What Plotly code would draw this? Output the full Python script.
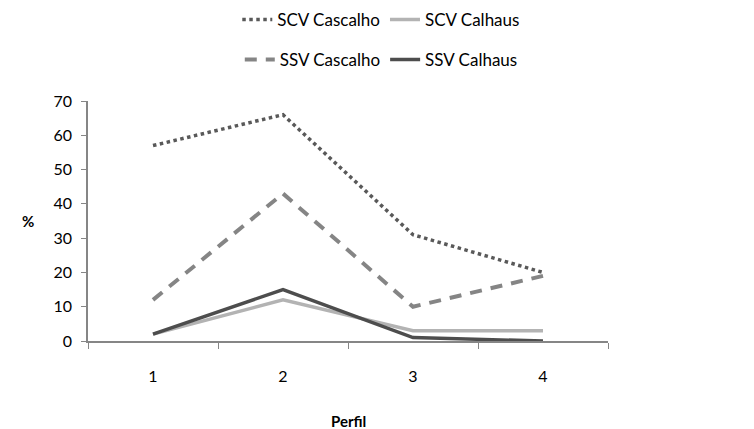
import plotly.graph_objects as go

categories = ["1", "2", "3", "4"]
scv_cascalho = [57, 66, 31, 20]
ssv_cascalho = [12, 43, 10, 19]
scv_calhaus = [2, 12, 3, 3]
ssv_calhaus = [2, 15, 1, 0]

FONT = "Lato, 'Open Sans', sans-serif"
fig = go.Figure()
fig.add_trace(go.Scatter(x=categories, y=scv_cascalho, name="SCV Cascalho", mode="lines",
                         line=dict(color="#595959", width=3.5, dash="dot"), legend="legend"))
fig.add_trace(go.Scatter(x=categories, y=ssv_cascalho, name="SSV Cascalho", mode="lines",
                         line=dict(color="#858585", width=4, dash="12px,9px"), legend="legend2"))
fig.add_trace(go.Scatter(x=categories, y=scv_calhaus, name="SCV Calhaus", mode="lines",
                         line=dict(color="#B3B3B3", width=3.5), legend="legend"))
fig.add_trace(go.Scatter(x=categories, y=ssv_calhaus, name="SSV Calhaus", mode="lines",
                         line=dict(color="#4D4D4D", width=3.5), legend="legend2"))

fig.update_layout(
    width=754, height=429,
    margin=dict(l=88, r=146, t=101, b=88, autoexpand=False),
    paper_bgcolor="white", plot_bgcolor="white",
    font=dict(family=FONT, size=16, color="#000000"),
    legend=dict(orientation="h", x=0.564, xanchor="center", y=1.338, yanchor="middle",
                font=dict(size=17), traceorder="normal", bgcolor="rgba(0,0,0,0)"),
    legend2=dict(orientation="h", x=0.564, xanchor="center", y=1.171, yanchor="middle",
                 font=dict(size=17), traceorder="normal", bgcolor="rgba(0,0,0,0)"),
    xaxis=dict(type="category", range=[-0.5, 3.5], tickson="boundaries", ticks="outside",
               ticklen=6, tickcolor="#868686", showline=True, linecolor="#868686",
               linewidth=1.5, showgrid=False, zeroline=False, ticklabelstandoff=20,
               tickfont=dict(size=16)),
    yaxis=dict(range=[0, 70], dtick=10, ticks="outside", ticklen=5, tickcolor="#868686",
               showline=True, linecolor="#868686", linewidth=1.5, showgrid=False,
               zeroline=False, tickfont=dict(size=16), ticklabelstandoff=6),
    annotations=[
        dict(text="<b>%</b>", xref="paper", yref="paper", x=(20 - 88) / 520, y=0.5,
             showarrow=False, font=dict(size=15)),
        dict(text="<b>Perfil</b>", xref="paper", yref="paper", x=0.5, y=-(421 - 341) / 240,
             yanchor="middle", showarrow=False, font=dict(size=15)),
    ],
)

fig.write_html("out.html")
